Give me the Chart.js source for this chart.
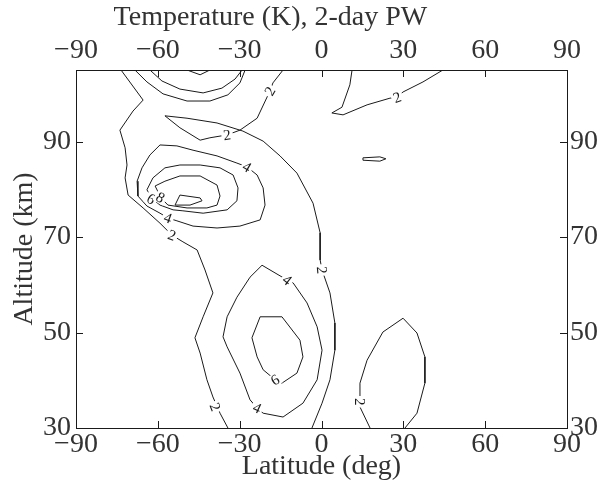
<!DOCTYPE html>
<html>
<head>
<meta charset="utf-8">
<title>Temperature (K), 2-day PW</title>
<script src="https://cdn.jsdelivr.net/npm/chart.js@4.4.0/dist/chart.umd.min.js"></script>
<style>
  html, body { margin: 0; padding: 0; background: #fff; }
</style>
</head>
<body>
<canvas id="pwchart" width="616" height="486"></canvas>
<script>
// contour lines of the 2-day wave temperature amplitude, [latitude, altitude] vertices
const west2 = [[-73.5,105],[-65.4,98.7],[-69.1,96.4],[-73.9,92.4],[-72.0,88.7],[-71.3,85.1],[-72.0,82.4],[-70.9,78.8],[-65.4,76.1],[-59.2,72.9],[-54.8,70.4],[-50.8,69.0],[-45.6,67.3],[-42.7,63.1],[-39.8,58.3],[-43.4,53.3],[-46.4,48.9],[-44.5,45.7],[-42.0,40.1],[-39.8,36.5],[-37.2,33.1],[-34.3,30]];
const east2 = [[-14.1,105],[-17.8,102.3],[-18.9,100.6],[-23.6,94.9],[-29.9,92.4],[-34.6,91.4],[-40.9,90.8],[-44.5,90.3],[-51.9,92.9],[-57.4,95.4],[-49.3,94.9],[-38.3,93.9],[-28.8,92.2],[-21.4,90.1],[-15.2,87.0],[-9.0,83.4],[-3.1,77.1],[-0.5,70.9],[-0.5,65.2],[0.2,63.1],[3.1,58.3],[4.9,52.0],[4.9,46.3],[3.1,40.1],[0.2,35.2],[-3.5,30]];
const top4 = [[-68.4,105],[-64.0,102.5],[-58.1,100.0],[-49.3,98.5],[-40.9,98.5],[-34.3,99.8],[-29.9,102.3],[-28.0,105]];
const top6 = [[-62.9,105],[-58.5,102.7],[-51.9,101.0],[-43.4,100.2],[-36.5,101.2],[-31.7,103.1],[-29.1,105]];
const top8 = [[-49.3,105],[-44.5,104.0],[-40.9,105]];
const mid4 = [[-59.2,89.3],[-62.9,87.2],[-65.8,84.5],[-67.6,81.7],[-67.3,78.6],[-64.0,76.5],[-59.2,75.0],[-56.3,74.0],[-53.0,73.4],[-47.1,72.3],[-38.3,71.9],[-29.9,72.3],[-22.5,73.6],[-20.7,76.7],[-21.4,80.3],[-23.6,83.0],[-27.3,84.7],[-31.0,85.5],[-38.3,87.0],[-47.1,88.2],[-53.0,89.1],[-59.2,89.3]];
const mid6 = [[-64.0,79.9],[-61.8,82.4],[-57.4,84.5],[-51.9,85.1],[-44.5,85.1],[-37.2,84.5],[-32.4,83.0],[-30.6,80.3],[-31.0,77.6],[-34.6,75.7],[-43.4,75.0],[-50.8,75.5],[-54.4,75.7],[-59.2,76.7],[-62.0,78.0],[-64.0,79.9]];
const mid8 = [[-61.0,80.7],[-57.4,81.7],[-51.9,82.8],[-44.5,82.8],[-38.3,80.9],[-37.2,78.6],[-38.3,76.7],[-42.0,76.1],[-49.3,76.1],[-56.3,76.7],[-58.8,78.2],[-61.0,80.7]];
const mid10 = [[-53.7,76.7],[-51.9,78.8],[-44.5,78.2],[-43.8,77.6],[-48.2,76.7],[-53.7,76.7]];
const bot4 = [[-21.8,64.1],[-12.6,61.0],[-10.4,60.4],[-5.3,56.2],[-1.6,51.2],[0.2,46.3],[-1.6,40.1],[-6.8,35.2],[-14.1,32.3],[-21.4,33.1],[-23.6,34.2],[-26.2,35.9],[-29.9,41.5],[-34.6,47.0],[-36.1,49.1],[-34.6,53.3],[-31.0,57.4],[-26.2,61.6],[-21.8,64.1]];
const bot6 = [[-22.5,53.3],[-14.5,53.3],[-7.9,48.4],[-6.8,44.9],[-9.0,41.5],[-14.5,39.4],[-17.0,40.1],[-21.4,42.2],[-23.6,44.9],[-25.5,48.9],[-22.5,53.3]];
const arch2 = [[17.8,30],[14.1,34.4],[14.1,39.4],[16.7,44.2],[22.5,50.1],[29.9,53.0],[35.0,49.9],[37.9,44.9],[37.9,39.4],[35.0,33.1],[30.6,30]];
const tongue2 = [[44.5,105],[37.2,102.5],[29.9,100.4],[27.7,99.3],[25.1,99.1],[16.7,97.7],[7.9,95.6],[3.8,96.0],[7.5,97.2],[10.4,101.9],[11.2,105]];
const blob2 = [[15.2,86.6],[21.4,86.8],[23.6,86.4],[21.4,85.9],[15.2,86.1],[15.2,86.6]];

const contourLines = [west2, east2, top4, top6, top8, mid4, mid6, mid8, mid10, bot4, bot6, arch2, tongue2, blob2];

// inline level labels: text, latitude, altitude, rotation (deg)
const labelText  = ['2', '2', '4', '4', '6', '8', '2', '2', '4', '6', '4', '2', '2', '2'];
const labelLat   = [-18.9, -34.6, -27.3, -56.3, -62.4, -59.0, -54.8, 0.2, -12.6, -17.0, -23.6, -39.0, 14.1, 27.7];
const labelAlt   = [100.6, 91.4, 84.7, 74.0, 78.0, 78.3, 70.4, 63.1, 61.0, 40.1, 34.2, 34.4, 35.5, 99.3];
const labelAngle = [-60, -8, 30, 20, 30, 30, 20, 85, 38, -30, 25, 68, 90, -20];

const latTicks = [-90, -60, -30, 0, 30, 60, 90];
const altTicks = [30, 50, 70, 90];

const caption = 'Temperature (K), 2-day PW';

const serif = '"Liberation Serif", "DejaVu Serif", serif';
const ink = '#1a1a1a';
const textInk = '#333';

const fmt = v => (v < 0 ? '\u2212' + Math.abs(v) : String(v));

const innerTicks = {
  id: 'innerTicks',
  afterDatasetsDraw(chart) {
    const { ctx, chartArea: a, scales } = chart;
    ctx.save();
    ctx.strokeStyle = ink;
    ctx.lineWidth = 1;
    ctx.beginPath();
    latTicks.slice(1, -1).forEach(v => {
      const px = Math.round(scales.x.getPixelForValue(v)) + 0.5;
      ctx.moveTo(px, a.bottom); ctx.lineTo(px, a.bottom - 7);
      ctx.moveTo(px, a.top); ctx.lineTo(px, a.top + 7);
    });
    altTicks.slice(1).forEach(v => {
      const py = Math.round(scales.y.getPixelForValue(v)) + 0.5;
      ctx.moveTo(a.left, py); ctx.lineTo(a.left + 7, py);
      ctx.moveTo(a.right, py); ctx.lineTo(a.right - 7, py);
    });
    ctx.stroke();
    ctx.restore();
  }
};

const levelLabels = {
  id: 'levelLabels',
  afterDatasetsDraw(chart) {
    const { ctx, scales: { x, y } } = chart;
    ctx.font = '15px ' + serif;
    ctx.textAlign = 'center';
    ctx.textBaseline = 'middle';
    labelText.forEach((t, i) => {
      ctx.save();
      ctx.translate(x.getPixelForValue(labelLat[i]), y.getPixelForValue(labelAlt[i]));
      ctx.rotate(labelAngle[i] * Math.PI / 180);
      const w = ctx.measureText(t).width;
      ctx.fillStyle = '#fff';
      ctx.fillRect(-w / 2 - 2, -6, w + 4, 12);
      ctx.fillStyle = ink;
      ctx.fillText(t, 0, 1);
      ctx.restore();
    });
  }
};

// the caption sits a little left of the plot centre, above the top axis
const topCaption = {
  id: 'topCaption',
  afterDraw(chart) {
    const { ctx, chartArea: a } = chart;
    ctx.save();
    ctx.font = '28px ' + serif;
    ctx.fillStyle = textInk;
    ctx.textAlign = 'center';
    ctx.textBaseline = 'alphabetic';
    ctx.fillText(caption, a.left + a.width * 0.396, 25);
    ctx.restore();
  }
};

const fixedSize = (key, size) => scale => { scale[key] = size; };

const latAxis = (position, title, size) => ({
  type: 'linear',
  position,
  min: -90,
  max: 90,
  afterBuildTicks: s => { s.ticks = latTicks.map(v => ({ value: v })); },
  afterFit: fixedSize('height', size),
  grid: { display: false, drawTicks: false },
  border: { display: true, color: ink, width: 1 },
  ticks: { color: textInk, font: { family: serif, size: 28 }, padding: position === 'top' ? 3 : 0, maxRotation: 0, callback: fmt },
  title: { display: !!title, text: title, color: textInk, font: { family: serif, size: 28 }, padding: { top: 0, bottom: 3 } }
});

const altAxis = (position, title, size) => ({
  type: 'linear',
  position,
  min: 30,
  max: 105,
  afterBuildTicks: s => { s.ticks = altTicks.map(v => ({ value: v })); },
  afterFit: fixedSize('width', size),
  grid: { display: false, drawTicks: false },
  border: { display: true, color: ink, width: 1 },
  ticks: { color: textInk, font: { family: serif, size: 28 }, padding: position === 'left' ? 5 : 3, callback: fmt },
  title: { display: !!title, text: title, color: textInk, font: { family: serif, size: 28 }, padding: { top: 8, bottom: 0 } }
});

new Chart(document.getElementById('pwchart'), {
  type: 'line',
  data: {
    datasets: contourLines.map(line => ({
      data: line.map(([lat, alt]) => ({ x: lat, y: alt })),
      xAxisID: 'x',
      yAxisID: 'y',
      borderColor: ink,
      borderWidth: 1,
      pointRadius: 0,
      tension: 0,
      fill: false
    }))
  },
  options: {
    responsive: false,
    animation: false,
    layout: { padding: 0 },
    plugins: { legend: { display: false }, tooltip: { enabled: false } },
    scales: {
      x: latAxis('bottom', 'Latitude (deg)', 58),
      x2: latAxis('top', '', 70),
      y: altAxis('left', 'Altitude (km)', 76),
      y2: altAxis('right', '', 49)
    }
  },
  plugins: [innerTicks, levelLabels, topCaption]
});
</script>
</body>
</html>
